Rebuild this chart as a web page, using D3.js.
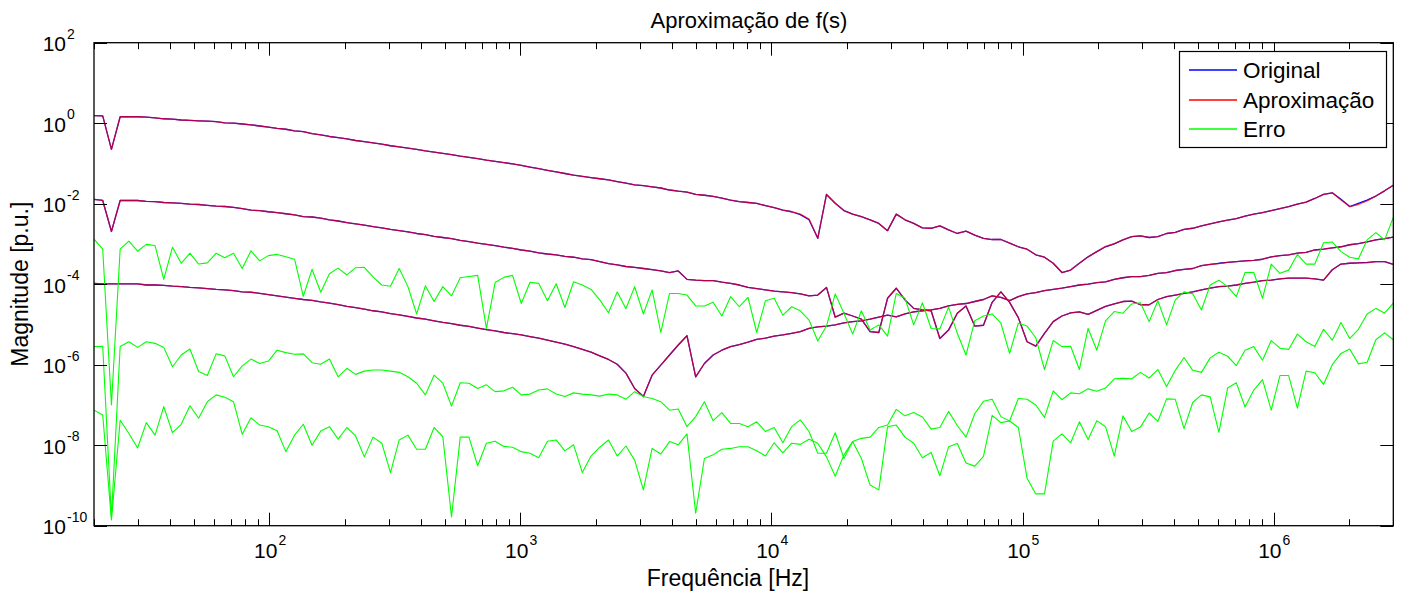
<!DOCTYPE html>
<html>
<head>
<meta charset="utf-8">
<script src="https://cdn.jsdelivr.net/npm/d3@7"></script>
<style>
  body { margin: 0; background: #fff; }
  svg { display: block; font-family: "Liberation Sans", Arial, sans-serif; }
</style>
</head>
<body>
<div class="viewport"></div>
<script>
const fMin = 20;
const fMax = 3e6;
const nSamples = 150;
// sweep frequencies (log spaced between the axis limits)
const freqs = d3.range(nSamples).map(i => fMin * Math.pow(fMax / fMin, i / (nSamples - 1)));

// log10 |f(s)|, one array per element
const original1 = [
  0.19, 0.18, -0.65, 0.16, 0.16, 0.16, 0.15, 0.13, 0.11, 0.10,
  0.08, 0.07, 0.06, 0.05, 0.04, 0.01, 0.00, -0.02, -0.04, -0.07,
  -0.10, -0.13, -0.15, -0.19, -0.21, -0.26, -0.29, -0.33, -0.36, -0.39,
  -0.43, -0.46, -0.49, -0.52, -0.56, -0.59, -0.62, -0.65, -0.69, -0.72,
  -0.75, -0.78, -0.82, -0.85, -0.88, -0.92, -0.95, -0.98, -1.01, -1.05,
  -1.09, -1.13, -1.17, -1.21, -1.25, -1.29, -1.32, -1.35, -1.38, -1.41,
  -1.45, -1.49, -1.53, -1.55, -1.58, -1.61, -1.66, -1.69, -1.71, -1.77,
  -1.79, -1.82, -1.86, -1.91, -1.95, -1.97, -1.99, -2.05, -2.10, -2.16,
  -2.20, -2.27, -2.40, -2.86, -1.77, -1.99, -2.17, -2.26, -2.32, -2.40,
  -2.49, -2.67, -2.26, -2.40, -2.49, -2.60, -2.61, -2.55, -2.65, -2.74,
  -2.68, -2.78, -2.86, -2.89, -2.89, -2.98, -3.07, -3.13, -3.27, -3.33,
  -3.48, -3.71, -3.65, -3.48, -3.32, -3.19, -3.07, -3.00, -2.90, -2.82,
  -2.80, -2.84, -2.82, -2.74, -2.71, -2.64, -2.61, -2.55, -2.50, -2.45,
  -2.41, -2.37, -2.31, -2.26, -2.22, -2.17, -2.12, -2.07, -2.01, -1.96,
  -1.87, -1.77, -1.73, -1.89, -2.07, -1.99, -1.91, -1.81, -1.68, -1.54
];
const original2 = [
  -1.89, -1.92, -2.69, -1.92, -1.92, -1.92, -1.94, -1.95, -1.97, -1.98,
  -1.99, -2.01, -2.02, -2.04, -2.06, -2.07, -2.09, -2.12, -2.16, -2.17,
  -2.20, -2.22, -2.25, -2.28, -2.32, -2.33, -2.36, -2.40, -2.43, -2.47,
  -2.50, -2.53, -2.57, -2.60, -2.64, -2.67, -2.70, -2.74, -2.77, -2.81,
  -2.84, -2.87, -2.91, -2.94, -2.98, -3.01, -3.04, -3.08, -3.11, -3.15,
  -3.18, -3.22, -3.25, -3.27, -3.31, -3.33, -3.37, -3.39, -3.44, -3.49,
  -3.52, -3.56, -3.58, -3.61, -3.64, -3.67, -3.71, -3.67, -3.88, -3.90,
  -3.91, -3.91, -3.95, -3.98, -4.02, -4.08, -4.11, -4.14, -4.17, -4.19,
  -4.21, -4.24, -4.29, -4.27, -4.08, -4.82, -4.72, -4.79, -4.87, -5.18,
  -5.20, -4.35, -4.10, -4.39, -4.60, -4.64, -4.66, -5.35, -5.14, -4.72,
  -4.54, -5.04, -5.02, -4.45, -4.19, -4.45, -4.83, -5.43, -5.54, -5.22,
  -4.93, -4.79, -4.71, -4.69, -4.75, -4.65, -4.55, -4.49, -4.43, -4.42,
  -4.51, -4.51, -4.38, -4.31, -4.27, -4.23, -4.19, -4.14, -4.10, -4.06,
  -4.05, -4.02, -3.98, -3.95, -3.91, -3.90, -3.87, -3.85, -3.85, -3.85,
  -3.87, -3.90, -3.64, -3.50, -3.48, -3.47, -3.46, -3.44, -3.44, -3.51
];
const original3 = [
  -3.98, -3.99, -3.99, -3.99, -3.99, -3.99, -4.02, -4.02, -4.03, -4.05,
  -4.06, -4.08, -4.09, -4.11, -4.13, -4.14, -4.16, -4.19, -4.20, -4.23,
  -4.26, -4.29, -4.32, -4.35, -4.38, -4.40, -4.44, -4.47, -4.51, -4.55,
  -4.58, -4.62, -4.66, -4.69, -4.73, -4.76, -4.80, -4.84, -4.87, -4.91,
  -4.95, -4.98, -5.02, -5.05, -5.09, -5.13, -5.16, -5.20, -5.23, -5.26,
  -5.30, -5.34, -5.39, -5.44, -5.49, -5.55, -5.62, -5.69, -5.78, -5.87,
  -5.99, -6.21, -6.59, -6.79, -6.26, -6.01, -5.76, -5.51, -5.28, -6.30,
  -5.97, -5.76, -5.64, -5.55, -5.50, -5.44, -5.37, -5.34, -5.29, -5.26,
  -5.22, -5.18, -5.10, -5.06, -5.04, -5.01, -4.96, -4.93, -4.91, -4.87,
  -4.82, -4.77, -4.81, -4.74, -4.69, -4.66, -4.64, -4.60, -4.54, -4.50,
  -4.48, -4.43, -4.38, -4.29, -4.33, -4.41, -4.31, -4.24, -4.21, -4.16,
  -4.13, -4.10, -4.06, -4.02, -4.00, -3.96, -3.94, -3.88, -3.84, -3.81,
  -3.81, -3.78, -3.73, -3.71, -3.66, -3.63, -3.61, -3.54, -3.51, -3.48,
  -3.46, -3.44, -3.42, -3.41, -3.38, -3.32, -3.29, -3.27, -3.23, -3.21,
  -3.15, -3.13, -3.10, -3.07, -3.02, -2.99, -2.95, -2.90, -2.87, -2.83
];

const approx1 = [
  0.19, 0.18, -0.65, 0.16, 0.16, 0.16, 0.15, 0.13, 0.11, 0.10,
  0.08, 0.07, 0.06, 0.05, 0.04, 0.01, 0.00, -0.02, -0.04, -0.07,
  -0.10, -0.13, -0.15, -0.19, -0.21, -0.26, -0.29, -0.33, -0.36, -0.39,
  -0.43, -0.46, -0.49, -0.52, -0.56, -0.59, -0.62, -0.65, -0.69, -0.72,
  -0.75, -0.78, -0.82, -0.85, -0.88, -0.92, -0.95, -0.98, -1.01, -1.05,
  -1.09, -1.13, -1.17, -1.21, -1.25, -1.29, -1.32, -1.35, -1.38, -1.41,
  -1.45, -1.49, -1.53, -1.55, -1.58, -1.61, -1.66, -1.69, -1.71, -1.77,
  -1.79, -1.82, -1.86, -1.91, -1.95, -1.97, -1.99, -2.05, -2.10, -2.16,
  -2.20, -2.26, -2.38, -2.86, -1.77, -1.99, -2.17, -2.26, -2.32, -2.40,
  -2.49, -2.67, -2.26, -2.40, -2.49, -2.60, -2.61, -2.55, -2.65, -2.74,
  -2.68, -2.78, -2.86, -2.89, -2.89, -2.98, -3.07, -3.13, -3.27, -3.33,
  -3.48, -3.71, -3.65, -3.48, -3.32, -3.19, -3.06, -2.99, -2.90, -2.82,
  -2.80, -2.84, -2.82, -2.74, -2.71, -2.64, -2.61, -2.55, -2.50, -2.45,
  -2.41, -2.37, -2.31, -2.26, -2.22, -2.17, -2.12, -2.07, -2.01, -1.96,
  -1.87, -1.77, -1.73, -1.91, -2.07, -2.02, -1.93, -1.81, -1.68, -1.54
];
const approx2 = [
  -1.89, -1.92, -2.69, -1.92, -1.92, -1.92, -1.94, -1.95, -1.97, -1.98,
  -1.99, -2.01, -2.02, -2.04, -2.06, -2.07, -2.09, -2.12, -2.16, -2.17,
  -2.20, -2.22, -2.25, -2.28, -2.32, -2.33, -2.36, -2.40, -2.43, -2.47,
  -2.50, -2.53, -2.57, -2.60, -2.64, -2.67, -2.70, -2.74, -2.77, -2.81,
  -2.84, -2.87, -2.91, -2.94, -2.98, -3.01, -3.04, -3.08, -3.11, -3.15,
  -3.18, -3.22, -3.25, -3.27, -3.31, -3.33, -3.37, -3.39, -3.44, -3.49,
  -3.52, -3.56, -3.58, -3.61, -3.64, -3.67, -3.71, -3.67, -3.88, -3.90,
  -3.91, -3.91, -3.95, -3.98, -4.02, -4.08, -4.11, -4.14, -4.17, -4.19,
  -4.21, -4.24, -4.29, -4.27, -4.08, -4.82, -4.72, -4.79, -4.87, -5.18,
  -5.20, -4.35, -4.10, -4.39, -4.60, -4.64, -4.66, -5.35, -5.14, -4.72,
  -4.54, -5.04, -5.02, -4.45, -4.19, -4.45, -4.83, -5.43, -5.54, -5.22,
  -4.93, -4.79, -4.71, -4.69, -4.75, -4.65, -4.55, -4.49, -4.43, -4.42,
  -4.51, -4.51, -4.38, -4.31, -4.27, -4.23, -4.19, -4.14, -4.10, -4.06,
  -4.05, -4.02, -3.98, -3.95, -3.91, -3.90, -3.87, -3.85, -3.85, -3.85,
  -3.87, -3.90, -3.64, -3.50, -3.48, -3.47, -3.47, -3.44, -3.44, -3.51
];
const approx3 = [
  -3.98, -3.99, -3.99, -3.99, -3.99, -3.99, -4.02, -4.02, -4.03, -4.05,
  -4.06, -4.08, -4.09, -4.11, -4.13, -4.14, -4.16, -4.19, -4.20, -4.23,
  -4.26, -4.29, -4.32, -4.35, -4.38, -4.40, -4.44, -4.47, -4.51, -4.55,
  -4.58, -4.62, -4.66, -4.69, -4.73, -4.76, -4.80, -4.84, -4.87, -4.91,
  -4.95, -4.98, -5.02, -5.05, -5.09, -5.13, -5.16, -5.20, -5.23, -5.26,
  -5.30, -5.34, -5.39, -5.44, -5.49, -5.55, -5.62, -5.69, -5.78, -5.87,
  -5.99, -6.21, -6.59, -6.79, -6.26, -6.01, -5.76, -5.51, -5.28, -6.30,
  -5.97, -5.76, -5.64, -5.55, -5.50, -5.44, -5.37, -5.34, -5.29, -5.26,
  -5.22, -5.18, -5.10, -5.06, -5.04, -5.01, -4.96, -4.93, -4.91, -4.87,
  -4.82, -4.77, -4.81, -4.74, -4.69, -4.66, -4.64, -4.60, -4.54, -4.50,
  -4.48, -4.43, -4.38, -4.29, -4.33, -4.41, -4.31, -4.24, -4.21, -4.16,
  -4.13, -4.10, -4.06, -4.02, -4.00, -3.96, -3.94, -3.88, -3.84, -3.81,
  -3.81, -3.78, -3.73, -3.71, -3.66, -3.63, -3.61, -3.54, -3.51, -3.49,
  -3.46, -3.44, -3.42, -3.41, -3.38, -3.32, -3.29, -3.27, -3.23, -3.21,
  -3.15, -3.13, -3.10, -3.07, -3.02, -2.99, -2.95, -2.90, -2.87, -2.83
];

const error1 = [
  -2.88, -3.13, -7.00, -3.13, -2.93, -3.18, -3.01, -3.04, -3.88, -3.08,
  -3.48, -3.23, -3.50, -3.47, -3.23, -3.34, -3.23, -3.61, -3.17, -3.42,
  -3.29, -3.26, -3.32, -3.38, -4.30, -3.63, -4.20, -3.74, -3.60, -3.77,
  -3.59, -3.58, -3.82, -4.02, -4.05, -3.61, -4.06, -4.74, -4.04, -4.43,
  -4.06, -4.29, -3.84, -3.81, -3.78, -5.10, -3.96, -3.83, -3.78, -4.48,
  -3.95, -3.98, -4.41, -3.99, -4.58, -3.94, -4.02, -4.13, -4.39, -4.71,
  -4.19, -4.61, -4.06, -4.74, -4.14, -5.20, -4.23, -4.23, -4.27, -4.54,
  -4.54, -4.45, -4.79, -4.31, -4.56, -4.33, -5.20, -4.41, -4.35, -4.77,
  -4.56, -4.66, -4.89, -5.41, -5.04, -4.24, -4.72, -5.24, -4.66, -5.14,
  -5.01, -5.29, -4.23, -4.35, -5.01, -4.46, -5.10, -5.11, -4.57, -5.22,
  -5.76, -4.91, -4.79, -4.74, -4.97, -5.72, -4.97, -5.04, -5.33, -6.12,
  -5.40, -5.55, -5.54, -6.12, -5.10, -5.64, -4.91, -4.68, -4.72, -4.49,
  -4.46, -4.93, -4.41, -5.01, -4.39, -4.19, -4.24, -4.64, -4.02, -3.90,
  -4.06, -4.31, -3.71, -3.71, -4.35, -3.50, -3.73, -3.65, -3.26, -3.50,
  -3.50, -2.97, -2.95, -3.19, -3.33, -3.37, -2.90, -2.72, -2.90, -2.34
];
const error2 = [
  -5.55, -5.54, -9.80, -5.55, -5.43, -5.57, -5.43, -5.47, -5.57, -6.05,
  -5.76, -5.61, -6.17, -6.27, -5.73, -5.78, -6.30, -6.03, -5.86, -5.97,
  -5.91, -5.64, -5.70, -5.74, -5.73, -5.95, -5.99, -5.86, -6.30, -6.09,
  -6.24, -6.16, -6.13, -6.13, -6.16, -6.19, -6.30, -6.46, -6.75, -6.26,
  -6.46, -7.03, -6.45, -6.46, -6.59, -6.50, -6.67, -6.65, -6.56, -6.75,
  -6.73, -6.63, -6.60, -6.73, -6.79, -6.70, -6.73, -6.75, -6.78, -6.73,
  -6.75, -6.86, -6.67, -6.79, -6.84, -6.92, -7.13, -7.10, -7.54, -7.29,
  -6.92, -7.39, -7.19, -7.46, -7.46, -7.54, -7.42, -7.66, -7.56, -7.94,
  -7.54, -7.37, -7.66, -8.20, -8.20, -7.69, -8.33, -7.91, -7.83, -7.80,
  -7.56, -7.50, -7.11, -7.27, -7.19, -7.30, -7.60, -7.56, -7.16, -7.51,
  -7.80, -7.22, -6.91, -6.86, -7.29, -7.40, -6.84, -6.86, -7.00, -7.31,
  -6.65, -6.87, -6.70, -6.72, -6.60, -6.66, -6.58, -6.35, -6.34, -6.35,
  -6.19, -6.33, -6.12, -6.54, -6.14, -5.82, -6.14, -6.19, -5.83, -5.69,
  -5.79, -6.02, -5.64, -5.55, -5.89, -5.40, -5.59, -5.62, -5.24, -5.43,
  -5.55, -5.12, -5.39, -4.95, -5.35, -5.12, -4.74, -4.60, -4.72, -4.47
];
const error3 = [
  -7.13, -7.25, -9.86, -7.38, -7.71, -8.07, -7.44, -7.75, -7.04, -7.69,
  -7.48, -7.02, -7.33, -6.92, -6.75, -6.81, -6.92, -7.73, -7.32, -7.50,
  -7.54, -7.64, -8.16, -7.75, -7.48, -8.00, -7.65, -7.54, -7.85, -7.56,
  -7.77, -8.29, -7.80, -7.95, -8.68, -7.87, -7.75, -8.10, -8.10, -7.56,
  -7.79, -9.78, -7.80, -7.80, -8.51, -7.95, -7.90, -8.03, -8.05, -8.16,
  -8.20, -8.31, -7.90, -7.87, -8.14, -7.99, -8.68, -8.27, -8.05, -7.87,
  -8.27, -8.02, -8.37, -9.11, -8.08, -8.22, -7.91, -7.99, -7.72, -9.69,
  -8.33, -8.24, -8.10, -8.08, -8.04, -8.04, -8.14, -8.27, -7.94, -8.19,
  -7.95, -7.98, -7.85, -7.95, -8.29, -8.77, -8.24, -7.91, -8.33, -8.99,
  -9.11, -7.54, -7.50, -7.80, -7.95, -8.31, -8.18, -8.76, -8.04, -7.96,
  -8.44, -8.52, -8.28, -7.26, -7.44, -7.40, -7.56, -8.82, -9.21, -9.21,
  -7.90, -7.72, -7.94, -7.42, -7.86, -7.39, -7.54, -8.27, -7.27, -7.66,
  -7.55, -7.20, -7.41, -6.85, -6.86, -7.59, -6.94, -6.75, -6.80, -7.68,
  -6.58, -6.45, -7.05, -6.63, -6.37, -7.13, -6.27, -6.27, -7.08, -6.16,
  -6.20, -6.49, -6.00, -5.72, -5.61, -5.98, -5.94, -5.38, -5.21, -5.38
];

const xTickExps = [2, 3, 4, 5, 6];
const yTickExps = [2, 0, -2, -4, -6, -8, -10];
const legendLabels = ["Original", "Aproximação", "Erro"];

const style = {
  original: { color: "#0000ff", width: 1.3, opacity: 1 },
  approx: { color: "#ff0000", width: 1.3, opacity: 0.7 },
  error: { color: "#00ff00", width: 1.1, opacity: 1 }
};

const W = 1408;
const H = 594;
const plot = { left: 94, right: 1393.3, top: 42.7, bottom: 525.7 };

const x = d3.scaleLog().domain([fMin, fMax]).range([plot.left, plot.right]);
const y = d3.scaleLog().domain([1e-10, 1e2]).range([plot.bottom, plot.top]);

const svg = d3
  .select(".viewport")
  .append("svg")
  .attr("width", W)
  .attr("height", H)
  .attr("viewBox", "0 0 " + W + " " + H);

svg.append("rect").attr("width", W).attr("height", H).attr("fill", "#fff");

svg
  .append("clipPath")
  .attr("id", "plotclip")
  .append("rect")
  .attr("x", plot.left)
  .attr("y", plot.top)
  .attr("width", plot.right - plot.left)
  .attr("height", plot.bottom - plot.top);

const line = d3
  .line()
  .x((d, i) => x(freqs[i]))
  .y(d => y(Math.pow(10, d)));

const drawSeries = (arrays, st, cls) => {
  svg
    .append("g")
    .attr("class", cls)
    .attr("clip-path", "url(#plotclip)")
    .selectAll("path")
    .data(arrays)
    .enter()
    .append("path")
    .attr("d", line)
    .attr("fill", "none")
    .attr("stroke", st.color)
    .attr("stroke-width", st.width)
    .attr("stroke-opacity", st.opacity)
    .attr("stroke-linejoin", "round");
};

drawSeries([original1, original2, original3], style.original, "original");
drawSeries([approx1, approx2, approx3], style.approx, "approx");
drawSeries([error1, error2, error3], style.error, "erro");

// ticks (MATLAB style: inward, on all four sides)
const xMajor = xTickExps.map(e => Math.pow(10, e));
const xMinor = [];
for (let d = 1; d <= 6; d++) {
  for (let m = 2; m <= 9; m++) {
    const v = m * Math.pow(10, d);
    if (v >= fMin && v <= fMax) xMinor.push(v);
  }
}
const yMajor = yTickExps.map(e => Math.pow(10, e));

const ticks = svg.append("g").attr("stroke", "#000").attr("stroke-width", 1);

const addXTicks = (vals, len) => {
  vals.forEach(v => {
    const px = Math.round(x(v)) + 0.5;
    ticks.append("line").attr("x1", px).attr("x2", px)
      .attr("y1", plot.bottom).attr("y2", plot.bottom - len);
    ticks.append("line").attr("x1", px).attr("x2", px)
      .attr("y1", plot.top).attr("y2", plot.top + len);
  });
};
addXTicks(xMinor, 6.5);
addXTicks(xMajor, 13);

yMajor.forEach(v => {
  const py = Math.round(y(v)) + 0.5;
  ticks.append("line").attr("x1", plot.left).attr("x2", plot.left + 13)
    .attr("y1", py).attr("y2", py);
  ticks.append("line").attr("x1", plot.right).attr("x2", plot.right - 13)
    .attr("y1", py).attr("y2", py);
});

svg
  .append("rect")
  .attr("x", plot.left)
  .attr("y", plot.top)
  .attr("width", plot.right - plot.left)
  .attr("height", plot.bottom - plot.top)
  .attr("fill", "none")
  .attr("stroke", "#000")
  .attr("stroke-width", 1.3);

// tick labels 10^n
const labels = svg.append("g").attr("fill", "#000");

xTickExps.forEach(e => {
  const px = x(Math.pow(10, e));
  labels.append("text").attr("x", px + 8).attr("y", 558)
    .attr("text-anchor", "end").attr("font-size", 21).text("10");
  labels.append("text").attr("x", px + 9).attr("y", 545)
    .attr("font-size", 14).text(e);
});

yTickExps.forEach(e => {
  const py = y(Math.pow(10, e));
  labels.append("text").attr("x", 66).attr("y", py + 8.5)
    .attr("text-anchor", "end").attr("font-size", 21).text("10");
  labels.append("text").attr("x", 67).attr("y", py - 4)
    .attr("font-size", 14).text(e);
});

// titles
svg.append("text")
  .attr("x", 749)
  .attr("y", 28)
  .attr("text-anchor", "middle")
  .attr("font-size", 22)
  .text("Aproximação de f(s)");

svg.append("text")
  .attr("x", 728)
  .attr("y", 586)
  .attr("text-anchor", "middle")
  .attr("font-size", 23)
  .text("Frequência [Hz]");

svg.append("text")
  .attr("transform", "translate(28," + (plot.top + plot.bottom) / 2 + ") rotate(-90)")
  .attr("text-anchor", "middle")
  .attr("font-size", 23)
  .text("Magnitude [p.u.]");

// legend
const legend = svg.append("g").attr("class", "legend");
legend.append("rect")
  .attr("x", 1179.5).attr("y", 51.5)
  .attr("width", 207).attr("height", 96)
  .attr("fill", "#fff").attr("stroke", "#000").attr("stroke-width", 1.2);

const legendStyles = [style.original, style.approx, style.error];
const legendRows = [70, 100, 129];
legendLabels.forEach((lab, i) => {
  legend.append("line")
    .attr("x1", 1189).attr("x2", 1237)
    .attr("y1", legendRows[i]).attr("y2", legendRows[i])
    .attr("stroke", legendStyles[i].color)
    .attr("stroke-width", 1.3);
  legend.append("text")
    .attr("x", 1243).attr("y", legendRows[i] + 8)
    .attr("font-size", 22.5)
    .text(lab);
});
</script>
</body>
</html>
